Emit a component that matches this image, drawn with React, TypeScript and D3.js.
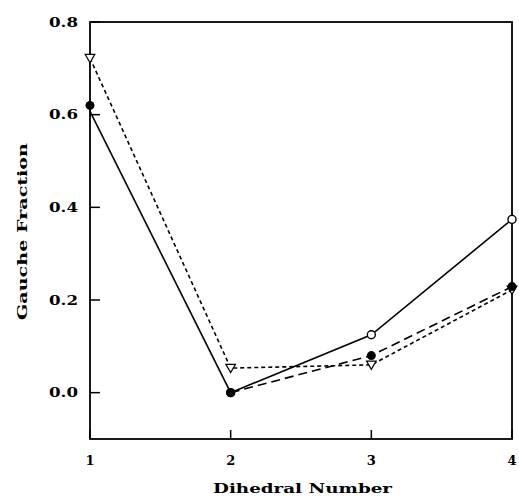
import React, { useEffect, useRef } from 'react';
import * as d3 from 'd3';

// dihedral numbers on the x axis
const dihedrals = [1, 2, 3, 4];
// solid line, open circles
const solidOpen = [0.607, 0.0, 0.125, 0.374];
// short dashes, open down-triangles
const dashTriangle = [0.722, 0.053, 0.06, 0.222];
// long dashes, filled circles (the dashed line is only visible from dihedral 2 on)
const longDashFilled = [0.62, 0.0, 0.08, 0.229];

const yTicks = [0.0, 0.2, 0.4, 0.6, 0.8];
const xTicks = [1, 2, 3, 4];

const App = () => {
  const svgRef = useRef<SVGSVGElement>(null);

  useEffect(() => {
    const svg = d3.select(svgRef.current);
    svg.selectAll('*').remove();

    const width = 519;
    const height = 502;
    const margin = { top: 22, right: 7, bottom: 63, left: 90 };
    const font = "'DejaVu Serif', serif";

    const x = d3.scaleLinear().domain([1, 4]).range([margin.left, width - margin.right]);
    const y = d3.scaleLinear().domain([-0.1, 0.8]).range([height - margin.bottom, margin.top]);

    const label = (sel: any, size = 12.5) =>
      sel.style('font-family', font).style('font-weight', 'bold').style('font-size', `${size}px`);

    // frame
    svg.append('rect')
      .attr('x', x(1)).attr('y', y(0.8))
      .attr('width', x(4) - x(1)).attr('height', y(-0.1) - y(0.8))
      .attr('fill', 'none').attr('stroke', '#000').attr('stroke-width', 1.8);

    // y ticks (inward)
    svg.append('g').selectAll('line').data(yTicks).enter().append('line')
      .attr('x1', x(1)).attr('x2', x(1) + 10)
      .attr('y1', d => y(d)).attr('y2', d => y(d))
      .attr('stroke', '#000').attr('stroke-width', 1.5);
    label(svg.append('g').selectAll('text').data(yTicks).enter().append('text')
      .attr('x', x(1) - 12).attr('y', d => y(d) + 4.5)
      .attr('text-anchor', 'end')
      .attr('textLength', 29).attr('lengthAdjust', 'spacingAndGlyphs')
      .text(d => d.toFixed(1)));

    // x ticks (inward)
    svg.append('g').selectAll('line').data(xTicks).enter().append('line')
      .attr('x1', d => x(d)).attr('x2', d => x(d))
      .attr('y1', y(-0.1)).attr('y2', y(-0.1) - 9)
      .attr('stroke', '#000').attr('stroke-width', 1.5);
    label(svg.append('g').selectAll('text').data(xTicks).enter().append('text')
      .attr('x', d => x(d)).attr('y', y(-0.1) + 26)
      .attr('text-anchor', 'middle')
      .text(d => d), 13);

    // axis titles
    label(svg.append('text')
      .attr('x', 213).attr('y', height - 9)
      .attr('textLength', 179).attr('lengthAdjust', 'spacingAndGlyphs')
      .text('Dihedral Number'));
    label(svg.append('text')
      .attr('transform', `translate(27,320) rotate(-90)`)
      .attr('textLength', 177).attr('lengthAdjust', 'spacingAndGlyphs')
      .text('Gauche Fraction'));

    const line = d3.line<[number, number]>()
      .x(d => x(d[0]))
      .y(d => y(d[1]));

    // lineFrom / markFrom: first index drawn (overlapped parts at dihedral 1 are hidden in the figure)
    const series = [
      { values: solidOpen, dash: null, marker: 'open', lineFrom: 0, markFrom: 1 },
      { values: dashTriangle, dash: '4,3', marker: 'tri', lineFrom: 0, markFrom: 0 },
      { values: longDashFilled, dash: '9,5', marker: 'filled', lineFrom: 1, markFrom: 0 },
    ];

    series.forEach(s => {
      const pts = dihedrals.map((d, i) => [d, s.values[i]] as [number, number]);
      svg.append('path')
        .datum(pts.slice(s.lineFrom))
        .attr('fill', 'none')
        .attr('stroke', '#000')
        .attr('stroke-width', 1.6)
        .attr('stroke-dasharray', s.dash)
        .attr('d', line);
    });

    series.forEach(s => {
      const pts = dihedrals.map((d, i) => [d, s.values[i]] as [number, number]).slice(s.markFrom);
      const g = svg.append('g');
      if (s.marker === 'open') {
        g.selectAll('circle').data(pts).enter().append('circle')
          .attr('cx', d => x(d[0])).attr('cy', d => y(d[1])).attr('r', 4)
          .attr('fill', '#fff').attr('stroke', '#000').attr('stroke-width', 1.4);
      } else if (s.marker === 'filled') {
        g.selectAll('circle').data(pts).enter().append('circle')
          .attr('cx', d => x(d[0])).attr('cy', d => y(d[1])).attr('r', 4.5)
          .attr('fill', '#000');
      } else {
        const tri = d3.symbol().type(d3.symbolTriangle).size(40);
        g.selectAll('path').data(pts).enter().append('path')
          .attr('d', tri)
          .attr('transform', d => `translate(${x(d[0])},${y(d[1]) - 1}) rotate(180)`)
          .attr('fill', '#fff').attr('stroke', '#000').attr('stroke-width', 1.2);
      }
    });
  }, []);

  return (
    <svg ref={svgRef} width={519} height={502}
      style={{ position: 'fixed', left: 0, top: 0, background: '#fff' }} />
  );
};

export default App;
